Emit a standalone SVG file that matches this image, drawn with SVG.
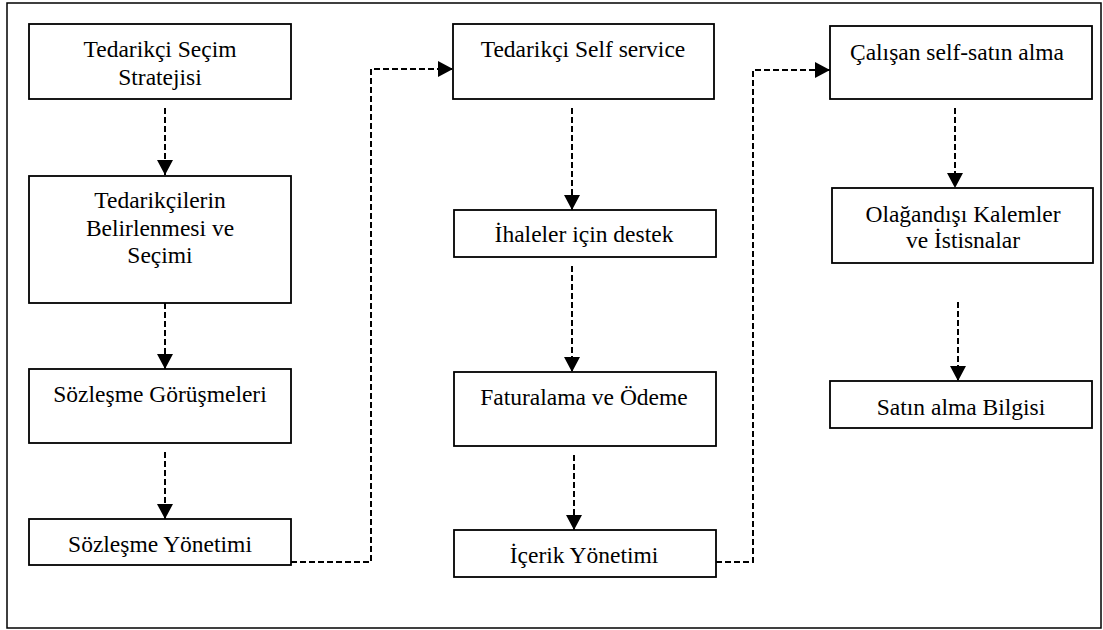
<svg xmlns="http://www.w3.org/2000/svg" width="1103" height="630" viewBox="0 0 1103 630">
<style>
.box{fill:#fff;stroke:#000;stroke-width:1.8}
.t{font-family:"Liberation Serif","Times New Roman",serif;font-size:23.5px;fill:#000;text-anchor:middle}
.c{fill:none;stroke:#000;stroke-width:2;stroke-dasharray:6 3}
</style>
<defs>
<marker id="ah" markerUnits="userSpaceOnUse" markerWidth="16" markerHeight="16" refX="15" refY="8" orient="auto">
<polygon points="0,0 15,8 0,16" fill="#000"/>
</marker>
</defs>
<rect x="0" y="0" width="1103" height="630" fill="#fff"/>
<rect x="7" y="3" width="1094" height="625" fill="none" stroke="#000" stroke-width="1.5"/>
<g id="connectors">
<line class="c" x1="165" y1="108" x2="165" y2="175" marker-end="url(#ah)"/>
<line class="c" x1="165" y1="303" x2="165" y2="369" marker-end="url(#ah)"/>
<line class="c" x1="165" y1="452" x2="165" y2="519" marker-end="url(#ah)"/>
<polyline class="c" points="291,562 371,562 371,69 453,69" marker-end="url(#ah)"/>
<line class="c" x1="572" y1="108" x2="572" y2="210" marker-end="url(#ah)"/>
<line class="c" x1="572" y1="266" x2="572" y2="372" marker-end="url(#ah)"/>
<line class="c" x1="574" y1="455" x2="574" y2="530" marker-end="url(#ah)"/>
<polyline class="c" points="716,562 753,562 753,70 830,70" marker-end="url(#ah)"/>
<line class="c" x1="955" y1="108" x2="955" y2="188" marker-end="url(#ah)"/>
<line class="c" x1="958" y1="302" x2="958" y2="381" marker-end="url(#ah)"/>
</g>
<g id="n1"><rect class="box" x="29" y="24" width="262" height="75"/><text class="t" x="160" y="57">Tedarikçi Seçim</text><text class="t" x="160" y="85">Stratejisi</text></g>
<g id="n2"><rect class="box" x="29" y="176" width="262" height="127"/><text class="t" x="160" y="208">Tedarikçilerin</text><text class="t" x="160" y="236">Belirlenmesi ve</text><text class="t" x="160" y="263">Seçimi</text></g>
<g id="n3"><rect class="box" x="29" y="369" width="262" height="74"/><text class="t" x="160" y="402">Sözleşme Görüşmeleri</text></g>
<g id="n4"><rect class="box" x="29" y="519" width="262" height="46"/><text class="t" x="160" y="552">Sözleşme Yönetimi</text></g>
<g id="n5"><rect class="box" x="453" y="24" width="261" height="75"/><text class="t" x="583" y="57">Tedarikçi Self service</text></g>
<g id="n6"><rect class="box" x="454" y="210" width="262" height="47"/><text class="t" x="584" y="242">İhaleler için destek</text></g>
<g id="n7"><rect class="box" x="454" y="372" width="262" height="74"/><text class="t" x="584" y="405">Faturalama ve Ödeme</text></g>
<g id="n8"><rect class="box" x="454" y="530" width="262" height="47"/><text class="t" x="584" y="563">İçerik Yönetimi</text></g>
<g id="n9"><rect class="box" x="830" y="26" width="262" height="73"/><text class="t" x="957" y="60">Çalışan self-satın alma</text></g>
<g id="n10"><rect class="box" x="832" y="188" width="261" height="75"/><text class="t" x="963" y="222">Olağandışı Kalemler</text><text class="t" x="963" y="248">ve İstisnalar</text></g>
<g id="n11"><rect class="box" x="830" y="381" width="262" height="47"/><text class="t" x="961" y="415">Satın alma Bilgisi</text></g>
</svg>
